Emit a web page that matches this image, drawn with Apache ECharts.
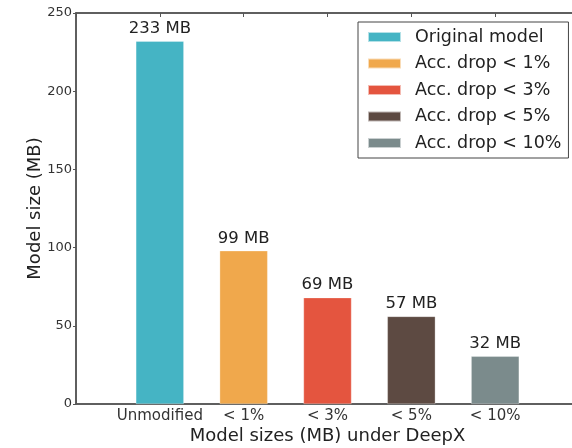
<!DOCTYPE html>
<html><head><meta charset="utf-8">
<script src="https://cdn.jsdelivr.net/npm/echarts@6/dist/echarts.min.js"></script>
<style>html,body{margin:0;padding:0;background:#fff;overflow:hidden}#c{width:572px;height:448px}</style>
</head><body><div id="c"></div>
<script>
const categories = ['Unmodified', '< 1%', '< 3%', '< 5%', '< 10%'];
const seriesNames = ['Original model', 'Acc. drop < 1%', 'Acc. drop < 3%', 'Acc. drop < 5%', 'Acc. drop < 10%'];
const values = [232, 98, 68, 56, 30.5];
const valueLabels = ['233 MB', '99 MB', '69 MB', '57 MB', '32 MB'];
const colors = ['#45B4C4', '#F0A84C', '#E4553F', '#5D4A42', '#7B8B8C'];
const yTicks = [0, 50, 100, 150, 200, 250];

const FONT = 'DejaVu Sans';
const chart = echarts.init(document.getElementById('c'), null, {renderer: 'canvas'});
const series = categories.map((c, i) => ({
  name: seriesNames[i],
  type: 'bar',
  barWidth: 48,
  barGap: '-100%',
  itemStyle: {color: colors[i], borderColor: 'rgba(255,255,255,0.6)', borderWidth: 0.5},
  data: [[i, values[i]]],
  label: {show: true, position: 'top', distance: 4, color: '#222', fontFamily: FONT, fontSize: 16.5,
    formatter: () => valueLabels[i]},
  emphasis: {disabled: true}
}));
const axisLineStyle = {color: '#555', width: 1.5};
chart.setOption({
  animation: false,
  color: colors,
  grid: {left: 76, width: 503, top: 13, bottom: 44, outerBoundsMode: 'none', containLabel: false,
    show: true, borderColor: '#555', borderWidth: 1.5},
  legend: {
    left: 358, top: 22, orient: 'vertical', icon: 'rect', itemWidth: 33, itemHeight: 10, itemGap: 8.5,
    padding: [6, 7, 6, 9], borderColor: '#444', borderWidth: 1, backgroundColor: '#fff',
    textStyle: {fontFamily: FONT, fontSize: 17.5, color: '#222', padding: [0, 0, 0, 9]},
    data: seriesNames
  },
  xAxis: [{
    type: 'value', min: -1, max: 5, interval: 1,
    name: 'Model sizes (MB) under DeepX', nameLocation: 'middle', nameGap: 23, nameMoveOverlap: false,
    nameTextStyle: {fontFamily: FONT, fontSize: 18, color: '#222'},
    axisLine: {show: true, onZero: false, lineStyle: axisLineStyle},
    axisTick: {show: true, inside: true, length: 4, lineStyle: {color: '#555'}},
    splitLine: {show: false},
    axisLabel: {fontFamily: FONT, fontSize: 15, color: '#333', margin: 5,
      formatter: v => (v >= 0 && v < categories.length) ? categories[v] : ''}
  }, {
    type: 'value', min: -1, max: 5, interval: 1, position: 'top',
    axisLine: {show: true, onZero: false, lineStyle: axisLineStyle},
    axisTick: {show: true, inside: true, length: 4, lineStyle: {color: '#555'}},
    splitLine: {show: false}, axisLabel: {show: false}
  }],
  yAxis: {
    type: 'value', min: 0, max: 250, interval: 50,
    name: 'Model size (MB)', nameLocation: 'middle', nameGap: 32, nameMoveOverlap: false,
    nameTextStyle: {fontFamily: FONT, fontSize: 18, color: '#222'},
    axisLine: {show: true, onZero: false, lineStyle: axisLineStyle},
    axisTick: {show: true, inside: false, length: 3, lineStyle: {color: '#555'}},
    splitLine: {show: false},
    axisLabel: {fontFamily: FONT, fontSize: 13, color: '#333', margin: 4,
      formatter: v => yTicks.includes(v) ? String(v) : ''}
  },
  series: series
});
</script></body></html>
